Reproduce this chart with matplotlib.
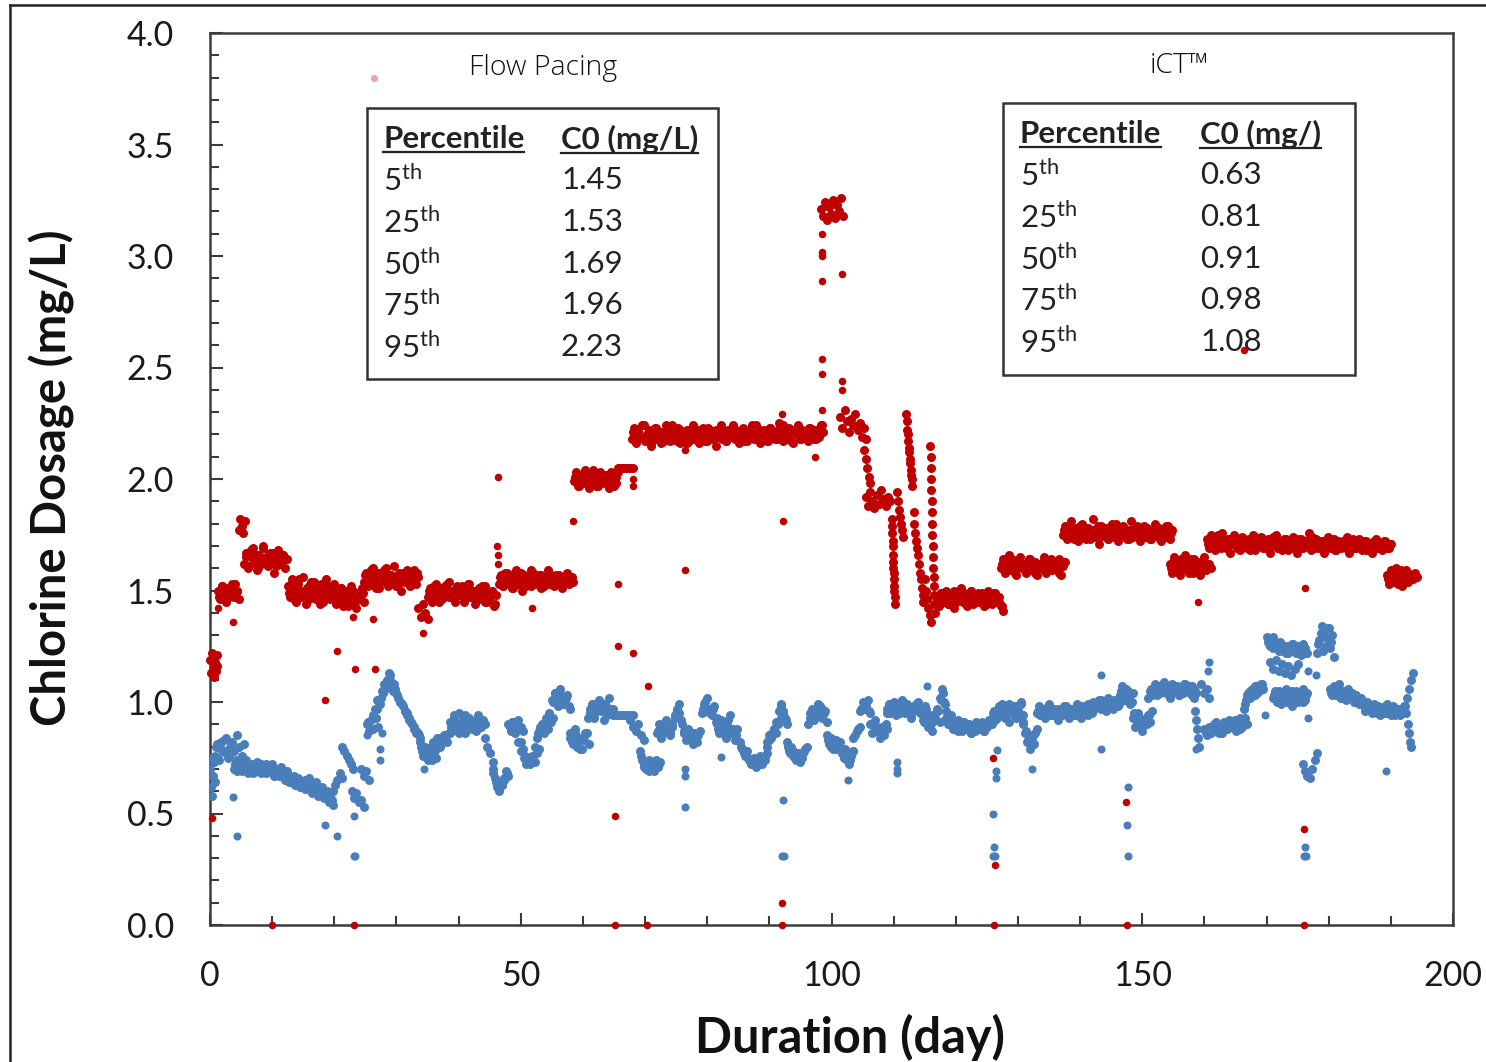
import numpy as np
import matplotlib
matplotlib.use('Agg')
import matplotlib.pyplot as plt
from matplotlib.lines import Line2D
from matplotlib.patches import Rectangle

plt.rcParams['font.family'] = ['Lato', 'DejaVu Sans']
plt.rcParams['mathtext.fontset'] = 'custom'
plt.rcParams['mathtext.rm'] = 'Lato'
plt.rcParams['mathtext.bf'] = 'Lato:bold'

# ---- Flow pacing dosage (red), runs of readings: (first day, last day, values)
red_runs = [
    (0.0, 1.2, [1.19, 1.13, 1.22, 1.15, 1.11, 1.18, 1.14, 1.21, 1.16]),
    (1.3, 4.6, [1.50, 1.46, 1.52, 1.48, 1.45, 1.51, 1.49, 1.53, 1.47, 1.50, 1.46]),
    (4.6, 5.6, [1.77, 1.82, 1.79, 1.76, 1.81]),
    (5.5, 12.4, [1.62, 1.67, 1.60, 1.65, 1.69, 1.63, 1.59, 1.66, 1.62, 1.70, 1.64,
                 1.61, 1.67, 1.63, 1.58, 1.65, 1.68, 1.62, 1.66, 1.60, 1.64]),
    (12.5, 24.8, [1.52, 1.47, 1.55, 1.49, 1.45, 1.53, 1.50, 1.56, 1.48, 1.51, 1.46,
                  1.54, 1.49, 1.52, 1.47, 1.44, 1.51, 1.48, 1.55, 1.50, 1.46, 1.49,
                  1.53, 1.45, 1.48, 1.51, 1.43, 1.47, 1.50, 1.45, 1.52, 1.46, 1.42,
                  1.49, 1.47, 1.51, 1.45]),
    (24.8, 33.5, [1.54, 1.58, 1.52, 1.56, 1.60, 1.53, 1.57, 1.51, 1.55, 1.59, 1.54,
                  1.52, 1.57, 1.55, 1.61, 1.53, 1.56, 1.50, 1.58, 1.54, 1.57, 1.52,
                  1.55, 1.59, 1.53, 1.56]),
    (33.5, 35.0, [1.42, 1.38, 1.44, 1.40, 1.37]),
    (35.0, 46.0, [1.47, 1.51, 1.45, 1.49, 1.53, 1.48, 1.50, 1.46, 1.52, 1.49, 1.54,
                  1.47, 1.50, 1.45, 1.51, 1.48, 1.52, 1.46, 1.49, 1.53, 1.47, 1.50,
                  1.44, 1.48, 1.51, 1.46, 1.49, 1.52, 1.45, 1.47, 1.50, 1.43, 1.48]),
    (46.5, 58.4, [1.53, 1.57, 1.52, 1.55, 1.58, 1.54, 1.51, 1.56, 1.59, 1.53, 1.55,
                  1.50, 1.57, 1.54, 1.56, 1.52, 1.58, 1.55, 1.53, 1.57, 1.51, 1.54,
                  1.56, 1.59, 1.53, 1.55, 1.52, 1.57, 1.54, 1.56, 1.51, 1.55, 1.58,
                  1.53, 1.56, 1.54]),
    (58.6, 65.6, [1.99, 2.03, 1.97, 2.01, 1.98, 2.04, 2.00, 1.96, 2.02, 1.99, 2.01,
                  1.97, 2.03, 1.98, 2.00, 2.02, 1.96, 1.99, 2.01, 1.98, 2.03]),
    (65.6, 68.0, [2.05, 2.05, 2.05, 2.05, 2.05, 2.05, 2.05, 2.05]),
    (67.9, 98.6, [2.18, 2.23, 2.16, 2.21, 2.19, 2.24, 2.17, 2.20, 2.22, 2.15, 2.19,
                  2.23, 2.18, 2.21, 2.16, 2.20, 2.24, 2.19, 2.17, 2.22, 2.20, 2.18,
                  2.23, 2.16, 2.21, 2.19, 2.22, 2.17, 2.20, 2.24, 2.18, 2.21, 2.16,
                  2.19, 2.23, 2.20, 2.17, 2.22, 2.19, 2.21, 2.15, 2.20, 2.23, 2.18,
                  2.21, 2.17, 2.22, 2.19, 2.24, 2.18, 2.20, 2.16, 2.21, 2.23, 2.19,
                  2.17, 2.22, 2.20, 2.18, 2.24, 2.21, 2.16, 2.19, 2.22, 2.20, 2.17,
                  2.23, 2.19, 2.21, 2.18, 2.25, 2.20, 2.17, 2.22, 2.19, 2.23, 2.21,
                  2.16, 2.20, 2.24, 2.18, 2.22, 2.19, 2.21, 2.17, 2.23, 2.20, 2.18,
                  2.22, 2.19, 2.24, 2.21]),
    (98.3, 101.8, [3.21, 3.18, 3.24, 3.16, 3.22, 3.19, 3.25, 3.17, 3.23, 3.20, 3.26, 3.18]),
    (101.4, 105.6, [2.28, 2.23, 2.31, 2.26, 2.21, 2.27, 2.24, 2.29, 2.22, 2.25, 2.19,
                    2.23, 2.18]),
    (105.3, 106.2, [2.13, 2.09, 2.05, 2.01, 1.98]),
    (105.5, 109.4, [1.92, 1.88, 1.94, 1.90, 1.87, 1.93, 1.89, 1.95, 1.91, 1.88, 1.92, 1.90]),
    (109.7, 110.2, [1.82, 1.79, 1.76, 1.72, 1.70, 1.66, 1.63, 1.60, 1.58, 1.55, 1.52,
                    1.50, 1.47, 1.44]),
    (110.6, 111.5, [1.94, 1.90, 1.86, 1.83, 1.80, 1.77, 1.74]),
    (112.0, 113.0, [2.29, 2.26, 2.22, 2.20, 2.17, 2.14, 2.12, 2.09, 2.07, 2.04, 2.02,
                    2.00, 1.97]),
    (113.2, 114.8, [1.85, 1.80, 1.76, 1.72, 1.69, 1.66, 1.62, 1.58, 1.55, 1.51, 1.48, 1.45]),
    (115.0, 116.0, [1.55, 1.50, 1.46, 1.42, 1.39, 1.36]),
    (115.9, 116.6, [2.15, 2.10, 2.05, 2.00, 1.95, 1.90, 1.85, 1.80, 1.75, 1.70, 1.65,
                    1.60, 1.56, 1.52, 1.48, 1.44, 1.40]),
    (117.0, 127.6, [1.47, 1.43, 1.49, 1.45, 1.50, 1.44, 1.48, 1.46, 1.42, 1.49, 1.47,
                    1.51, 1.45, 1.48, 1.43, 1.46, 1.50, 1.44, 1.47, 1.49, 1.45, 1.48,
                    1.43, 1.46, 1.50, 1.47, 1.44, 1.49, 1.46, 1.45, 1.43, 1.41]),
    (127.2, 137.6, [1.60, 1.64, 1.58, 1.62, 1.66, 1.59, 1.63, 1.57, 1.61, 1.65, 1.60,
                    1.62, 1.58, 1.64, 1.61, 1.59, 1.63, 1.57, 1.62, 1.60, 1.65, 1.58,
                    1.61, 1.63, 1.59, 1.62, 1.60, 1.64, 1.57, 1.61, 1.63]),
    (137.2, 154.8, [1.75, 1.79, 1.73, 1.77, 1.81, 1.74, 1.78, 1.72, 1.76, 1.80, 1.75,
                    1.73, 1.78, 1.76, 1.82, 1.74, 1.77, 1.71, 1.79, 1.75, 1.77, 1.73,
                    1.76, 1.80, 1.74, 1.78, 1.72, 1.75, 1.79, 1.76, 1.73, 1.77, 1.81,
                    1.74, 1.76, 1.78, 1.72, 1.75, 1.79, 1.74, 1.77, 1.73, 1.76, 1.80,
                    1.75, 1.78, 1.72, 1.76, 1.74, 1.79, 1.73, 1.77]),
    (154.4, 161.0, [1.62, 1.58, 1.65, 1.60, 1.63, 1.57, 1.61, 1.66, 1.59, 1.62, 1.64,
                    1.58, 1.61, 1.63, 1.57, 1.60, 1.65, 1.59, 1.62, 1.60]),
    (160.4, 190.0, [1.73, 1.69, 1.75, 1.71, 1.68, 1.74, 1.70, 1.76, 1.72, 1.69, 1.73,
                    1.67, 1.71, 1.75, 1.70, 1.72, 1.68, 1.74, 1.71, 1.69, 1.73, 1.70,
                    1.75, 1.68, 1.72, 1.70, 1.74, 1.69, 1.71, 1.73, 1.67, 1.70, 1.72,
                    1.75, 1.69, 1.71, 1.68, 1.73, 1.70, 1.72, 1.69, 1.74, 1.71, 1.67,
                    1.70, 1.73, 1.69, 1.72, 1.70, 1.76, 1.68, 1.71, 1.73, 1.69, 1.70,
                    1.72, 1.67, 1.71, 1.74, 1.69, 1.70, 1.73, 1.68, 1.71, 1.69, 1.72,
                    1.70, 1.74, 1.67, 1.70, 1.72, 1.69, 1.71, 1.73, 1.68, 1.70, 1.72,
                    1.69, 1.71, 1.67, 1.70, 1.73, 1.69, 1.71, 1.68, 1.72, 1.70, 1.69,
                    1.71]),
    (189.4, 194.2, [1.57, 1.53, 1.59, 1.55, 1.60, 1.54, 1.58, 1.52, 1.56, 1.59, 1.54,
                    1.57, 1.55, 1.58, 1.56]),
]

# second pass of readings on the long plateaus (the logger sampled densely)
red_runs_b = [
    (1.5, 4.4, [1.47, 1.52, 1.49, 1.46, 1.51, 1.48, 1.53, 1.50]),
    (5.8, 12.2, [1.65, 1.61, 1.68, 1.63, 1.66, 1.60, 1.64, 1.69, 1.62, 1.66, 1.63,
                 1.67, 1.61, 1.65, 1.62, 1.66, 1.64]),
    (12.7, 24.6, [1.49, 1.53, 1.46, 1.51, 1.55, 1.47, 1.50, 1.44, 1.52, 1.48, 1.54,
                  1.46, 1.50, 1.53, 1.45, 1.49, 1.52, 1.47, 1.50, 1.44, 1.48, 1.51,
                  1.46, 1.49, 1.43, 1.47, 1.50, 1.45, 1.48, 1.46, 1.49]),
    (25.0, 33.3, [1.57, 1.53, 1.59, 1.55, 1.51, 1.58, 1.54, 1.56, 1.60, 1.53, 1.57,
                  1.55, 1.52, 1.58, 1.54, 1.56, 1.59, 1.53, 1.57, 1.55, 1.58]),
    (35.2, 45.8, [1.50, 1.46, 1.52, 1.48, 1.45, 1.51, 1.49, 1.53, 1.47, 1.50, 1.46,
                  1.52, 1.48, 1.51, 1.45, 1.49, 1.53, 1.47, 1.50, 1.46, 1.48, 1.52,
                  1.45, 1.49, 1.47, 1.50, 1.44]),
    (46.7, 58.2, [1.56, 1.52, 1.58, 1.54, 1.57, 1.51, 1.55, 1.53, 1.58, 1.56, 1.52,
                  1.55, 1.59, 1.53, 1.56, 1.54, 1.57, 1.52, 1.55, 1.58, 1.53, 1.56,
                  1.54, 1.57, 1.52, 1.55, 1.57, 1.54, 1.56]),
    (58.8, 65.4, [2.01, 1.97, 2.02, 1.99, 2.03, 1.98, 2.00, 2.04, 1.97, 2.01, 1.99,
                  2.02, 1.98, 2.00, 2.03, 1.97, 2.01]),
    (68.1, 98.4, [2.21, 2.17, 2.22, 2.19, 2.24, 2.18, 2.21, 2.16, 2.20, 2.23, 2.18,
                  2.21, 2.17, 2.22, 2.19, 2.24, 2.20, 2.17, 2.22, 2.19, 2.21, 2.16,
                  2.20, 2.23, 2.18, 2.22, 2.19, 2.21, 2.17, 2.23, 2.20, 2.18, 2.22,
                  2.19, 2.24, 2.20, 2.17, 2.21, 2.19, 2.23, 2.18, 2.20, 2.22, 2.17,
                  2.21, 2.19, 2.24, 2.20, 2.18, 2.22, 2.19, 2.21, 2.17, 2.23, 2.20,
                  2.18, 2.22, 2.20, 2.24, 2.19, 2.21, 2.17, 2.22, 2.20, 2.23, 2.18,
                  2.21, 2.19, 2.23, 2.20, 2.22, 2.18, 2.21, 2.24]),
    (117.2, 127.4, [1.45, 1.49, 1.46, 1.48, 1.44, 1.47, 1.50, 1.45, 1.48, 1.46, 1.49,
                    1.44, 1.47, 1.50, 1.46, 1.48, 1.45, 1.49, 1.47, 1.44, 1.48, 1.46,
                    1.49, 1.45, 1.47, 1.43]),
    (127.4, 137.4, [1.62, 1.59, 1.63, 1.60, 1.64, 1.58, 1.61, 1.63, 1.60, 1.62, 1.59,
                    1.64, 1.61, 1.58, 1.62, 1.60, 1.63, 1.59, 1.61, 1.64, 1.60, 1.62,
                    1.58, 1.61, 1.63]),
    (137.4, 154.6, [1.77, 1.74, 1.78, 1.75, 1.73, 1.77, 1.79, 1.74, 1.76, 1.78, 1.73,
                    1.77, 1.75, 1.79, 1.74, 1.76, 1.78, 1.73, 1.77, 1.75, 1.80, 1.74,
                    1.76, 1.78, 1.75, 1.73, 1.77, 1.76, 1.79, 1.74, 1.77, 1.75, 1.78,
                    1.73, 1.76, 1.78, 1.74, 1.77, 1.75, 1.79, 1.74, 1.76]),
    (154.6, 160.8, [1.60, 1.63, 1.59, 1.62, 1.64, 1.60, 1.63, 1.58, 1.61, 1.64, 1.60,
                    1.62, 1.59, 1.63, 1.61, 1.62]),
    (160.6, 189.8, [1.71, 1.74, 1.70, 1.72, 1.75, 1.69, 1.72, 1.70, 1.73, 1.71, 1.74,
                    1.69, 1.72, 1.70, 1.73, 1.71, 1.68, 1.72, 1.74, 1.70, 1.71, 1.73,
                    1.69, 1.72, 1.70, 1.74, 1.71, 1.69, 1.72, 1.70, 1.73, 1.68, 1.71,
                    1.72, 1.70, 1.73, 1.69, 1.71, 1.72, 1.70, 1.74, 1.69, 1.71, 1.70,
                    1.72, 1.69, 1.71, 1.73, 1.70, 1.68, 1.72, 1.70, 1.71, 1.69, 1.72,
                    1.70, 1.73, 1.69, 1.71, 1.70, 1.72, 1.68, 1.71, 1.70, 1.72, 1.69,
                    1.71, 1.70, 1.72, 1.69, 1.71]),
    (189.6, 194.0, [1.55, 1.58, 1.54, 1.57, 1.53, 1.59, 1.56, 1.54, 1.58, 1.55, 1.57,
                    1.56]),
]

# isolated red readings
red_odd_days = [1.3, 3.7, 18.5, 20.4, 23.0, 23.3, 26.5, 26.3, 34.3, 51.8, 46.3, 46.2,
                46.3, 46.3, 58.4, 65.6, 65.6, 68.0, 70.5, 65.1, 68.0, 68.0, 76.4, 76.4,
                92.0, 92.2, 97.3, 98.4, 98.4, 98.4, 98.4, 98.4, 98.4, 98.4, 101.7,
                101.7, 101.7, 92.0, 126.0, 126.3, 147.4, 176.0, 158.9, 176.2, 166.4,
                0.3, 10.0, 23.1, 65.1, 70.3, 92.0, 126.2, 147.5, 176.0]
red_odd_vals = [1.42, 1.36, 1.01, 1.23, 1.38, 1.15, 1.15, 1.37, 1.31, 1.42, 2.01, 1.70,
                1.66, 1.62, 1.81, 1.53, 1.25, 1.22, 1.07, 0.49, 1.97, 2.00, 2.13, 1.59,
                2.29, 1.81, 2.10, 2.31, 2.47, 2.54, 2.89, 3.00, 3.02, 3.10, 2.92, 2.44,
                2.40, 0.10, 0.75, 0.27, 0.55, 0.43, 1.45, 1.51, 2.58,
                0.48, 0.0, 0.0, 0.0, 0.0, 0.0, 0.0, 0.0, 0.0]
faint_day, faint_val = [26.4], [3.80]

# ---- iCT dosage (blue)
blue_runs = [
    (0.0, 0.8, [0.70, 0.62, 0.75, 0.58, 0.67, 0.73, 0.64]),
    (0.8, 3.6, [0.76, 0.81, 0.74, 0.79, 0.83, 0.77, 0.75, 0.80, 0.78]),
    (3.5, 5.5, [0.82, 0.78, 0.85, 0.80, 0.76, 0.81]),
    (3.8, 11.7, [0.70, 0.74, 0.71, 0.73, 0.69, 0.72, 0.74, 0.70, 0.72, 0.68, 0.71,
                 0.73, 0.69, 0.72, 0.70, 0.68, 0.71, 0.69, 0.72, 0.67, 0.70, 0.68,
                 0.71, 0.69]),
    (11.7, 16.0, [0.68, 0.65, 0.69, 0.66, 0.64, 0.67, 0.63, 0.66, 0.64, 0.62, 0.65,
                  0.63, 0.66]),
    (16.0, 19.8, [0.63, 0.59, 0.61, 0.64, 0.58, 0.60, 0.62, 0.57, 0.60, 0.55, 0.59, 0.54]),
    (19.8, 21.2, [0.60, 0.63, 0.65, 0.68, 0.66]),
    (21.3, 23.0, [0.80, 0.78, 0.76, 0.74, 0.72, 0.70]),
    (22.8, 24.7, [0.60, 0.57, 0.59, 0.55, 0.56, 0.53]),
    (24.3, 25.6, [0.70, 0.67, 0.69, 0.65]),
    (25.2, 27.0, [0.90, 0.87, 0.92, 0.88, 0.93, 0.89]),
    (26.8, 28.9, [0.97, 1.00, 1.02, 1.04, 1.06, 1.09, 1.12]),
    (28.9, 33.8, [1.10, 1.07, 1.08, 1.04, 1.02, 1.00, 0.98, 0.96, 0.95, 0.92, 0.91,
                  0.89, 0.87, 0.86, 0.84]),
    (33.8, 36.4, [0.82, 0.78, 0.80, 0.76, 0.79, 0.74, 0.77, 0.75]),
    (36.2, 38.6, [0.81, 0.84, 0.80, 0.83, 0.85, 0.82, 0.86]),
    (38.6, 44.2, [0.91, 0.87, 0.94, 0.89, 0.95, 0.88, 0.92, 0.86, 0.90, 0.93, 0.88,
                  0.91, 0.87, 0.94, 0.89, 0.92, 0.90]),
    (44.2, 45.5, [0.84, 0.80, 0.77, 0.73]),
    (45.5, 48.0, [0.70, 0.66, 0.62, 0.60, 0.63, 0.66, 0.69, 0.67]),
    (48.0, 50.4, [0.90, 0.87, 0.91, 0.88, 0.92, 0.89, 0.87]),
    (50.0, 53.0, [0.82, 0.79, 0.76, 0.74, 0.72, 0.75, 0.73, 0.77, 0.79]),
    (52.6, 55.2, [0.84, 0.87, 0.90, 0.86, 0.92, 0.88, 0.91, 0.93]),
    (55.2, 57.9, [1.00, 1.04, 0.98, 1.06, 1.02, 0.99, 1.03, 0.97]),
    (57.9, 61.0, [0.86, 0.82, 0.88, 0.80, 0.84, 0.79, 0.83, 0.86, 0.81]),
    (61.1, 64.9, [0.95, 0.99, 0.93, 0.97, 1.01, 0.96, 0.92, 0.98, 1.02, 0.95, 0.97]),
    (64.9, 68.0, [0.94, 0.94, 0.94, 0.94, 0.94, 0.94, 0.94, 0.94]),
    (67.6, 69.8, [0.92, 0.89, 0.87, 0.90, 0.85, 0.83]),
    (69.2, 72.4, [0.78, 0.74, 0.71, 0.73, 0.69, 0.72, 0.70, 0.74, 0.71, 0.73]),
    (71.9, 76.2, [0.86, 0.90, 0.84, 0.88, 0.92, 0.87, 0.85, 0.89, 0.93, 0.96, 0.99,
                  0.92, 0.87]),
    (76.2, 78.8, [0.86, 0.83, 0.88, 0.84, 0.81, 0.85, 0.82, 0.87]),
    (79.1, 81.5, [0.95, 0.99, 1.02, 0.97, 0.94, 0.98, 0.93]),
    (81.5, 84.8, [0.90, 0.86, 0.92, 0.88, 0.84, 0.89, 0.94, 0.87, 0.83, 0.88]),
    (85.3, 89.6, [0.82, 0.79, 0.76, 0.78, 0.74, 0.72, 0.75, 0.71, 0.73, 0.76, 0.72,
                  0.74, 0.77]),
    (89.6, 91.8, [0.82, 0.85, 0.84, 0.88, 0.86, 0.90, 0.93]),
    (91.8, 92.8, [0.99, 0.96, 0.93, 0.90]),
    (92.8, 96.0, [0.82, 0.78, 0.80, 0.76, 0.74, 0.77, 0.73, 0.75, 0.78, 0.80]),
    (96.5, 99.2, [0.93, 0.97, 0.92, 0.96, 0.99, 0.94, 0.97, 0.95, 0.91]),
    (99.2, 101.4, [0.85, 0.81, 0.84, 0.79, 0.83, 0.80, 0.82]),
    (101.4, 103.5, [0.80, 0.77, 0.79, 0.74, 0.72, 0.76, 0.78]),
    (103.5, 104.6, [0.84, 0.87, 0.89]),
    (104.6, 106.2, [0.96, 1.00, 0.97, 1.01, 0.95]),
    (106.2, 108.9, [0.90, 0.86, 0.92, 0.87, 0.84, 0.89, 0.85, 0.88]),
    (108.9, 114.3, [0.95, 0.99, 0.96, 1.00, 0.94, 0.98, 0.97, 1.01, 0.95, 0.99, 0.96,
                    0.93, 0.98, 0.97, 1.00, 0.95]),
    (114.3, 117.4, [0.96, 0.92, 0.98, 0.89, 0.94, 0.87, 0.93, 0.97, 0.91]),
    (117.4, 118.5, [1.02, 1.06, 1.00, 0.96]),
    (118.5, 126.0, [0.93, 0.90, 0.94, 0.91, 0.88, 0.92, 0.89, 0.87, 0.91, 0.88, 0.90,
                    0.86, 0.89, 0.87, 0.90, 0.88, 0.91, 0.87, 0.89, 0.92, 0.90, 0.93]),
    (126.0, 130.8, [0.95, 0.92, 0.97, 0.94, 0.99, 0.93, 0.96, 0.91, 0.95, 0.98, 0.93,
                    0.96, 1.00, 0.94]),
    (130.8, 133.0, [0.90, 0.86, 0.82, 0.79, 0.84, 0.81, 0.88]),
    (133.0, 142.6, [0.95, 0.98, 0.94, 0.97, 0.93, 0.96, 0.99, 0.94, 0.97, 0.95, 0.92,
                    0.96, 0.94, 0.98, 0.95, 0.93, 0.97, 0.94, 0.96, 0.99, 0.95, 0.93,
                    0.97, 0.96, 0.94, 0.98, 0.95, 0.97, 0.99]),
    (142.6, 146.4, [0.98, 1.01, 0.97, 1.00, 0.96, 1.02, 0.99, 0.97, 1.01, 0.98, 1.00]),
    (146.4, 148.5, [1.03, 1.07, 1.01, 1.05, 0.99, 1.04]),
    (148.5, 151.5, [0.93, 0.89, 0.95, 0.91, 0.87, 0.92, 0.90, 0.94, 0.96]),
    (151.0, 158.7, [1.02, 1.06, 1.04, 1.08, 1.03, 1.07, 1.05, 1.09, 1.04, 1.06, 1.02,
                    1.08, 1.05, 1.07, 1.03, 1.06, 1.04, 1.08, 1.05, 1.07, 1.03, 1.06,
                    1.04]),
    (158.2, 159.2, [1.06, 1.02, 0.96, 0.92, 0.88, 0.84, 0.80]),
    (159.5, 160.8, [1.08, 1.04, 1.06, 1.02]),
    (160.0, 166.8, [0.88, 0.85, 0.89, 0.86, 0.88, 0.91, 0.87, 0.89, 0.86, 0.90, 0.88,
                    0.92, 0.89, 0.91, 0.87, 0.90, 0.93, 0.89, 0.92, 0.90]),
    (166.3, 169.5, [0.97, 1.01, 1.04, 1.02, 1.06, 1.03, 1.07, 1.05, 1.08, 1.06]),
    (170.0, 176.5, [1.29, 1.26, 1.28, 1.24, 1.27, 1.25, 1.23, 1.26, 1.24, 1.22, 1.25,
                    1.23, 1.26, 1.24, 1.22, 1.25, 1.23, 1.26, 1.24, 1.22]),
    (170.5, 175.0, [1.18, 1.15, 1.19, 1.14, 1.17, 1.13, 1.16, 1.12, 1.15, 1.17]),
    (171.0, 176.5, [1.02, 1.05, 1.00, 1.04, 0.99, 1.03, 1.06, 1.01, 1.04, 0.98, 1.02,
                    1.05, 1.00, 1.03, 1.06, 1.01, 1.04]),
    (175.8, 178.1, [0.72, 0.69, 0.67, 0.66, 0.70, 0.74, 0.77]),
    (178.1, 180.8, [1.22, 1.28, 1.34, 1.30, 1.25, 1.33, 1.27, 1.20]),
    (180.2, 185.5, [1.06, 1.03, 1.07, 1.04, 1.08, 1.02, 1.05, 1.03, 1.06, 1.02, 1.04,
                    1.01, 1.03, 1.00, 1.02, 1.00]),
    (185.5, 192.5, [0.99, 0.96, 1.00, 0.97, 0.95, 0.99, 0.96, 0.98, 0.94, 0.97, 0.95,
                    0.99, 0.96, 0.94, 0.98, 0.95, 0.97, 0.94, 0.96, 0.98, 0.95]),
    (192.6, 193.5, [1.02, 1.06, 1.10, 1.13]),
    (192.8, 193.3, [0.90, 0.86, 0.82, 0.80]),
]

# second pass of iCT readings (the trace is sampled densely)
blue_runs_b = [
    (0.9, 3.4, [0.80, 0.75, 0.82, 0.78, 0.84, 0.76, 0.79]),
    (4.0, 11.5, [0.72, 0.69, 0.73, 0.70, 0.71, 0.68, 0.72, 0.70, 0.69, 0.71, 0.68,
                 0.70, 0.72, 0.69, 0.70, 0.68, 0.70, 0.67, 0.69]),
    (11.9, 19.6, [0.66, 0.68, 0.64, 0.66, 0.63, 0.65, 0.62, 0.64, 0.61, 0.63, 0.60,
                  0.62, 0.59, 0.61, 0.58, 0.60, 0.57, 0.59, 0.56]),
    (25.4, 28.8, [0.91, 0.88, 0.94, 0.97, 1.01, 0.99, 1.05, 1.08, 1.10, 1.13]),
    (29.0, 33.6, [1.08, 1.05, 1.06, 1.03, 1.00, 0.99, 0.96, 0.94, 0.93, 0.90, 0.88,
                  0.86, 0.85]),
    (33.9, 38.4, [0.80, 0.76, 0.78, 0.74, 0.80, 0.82, 0.79, 0.84, 0.81, 0.85, 0.83, 0.86]),
    (38.8, 44.0, [0.89, 0.93, 0.90, 0.86, 0.91, 0.94, 0.89, 0.92, 0.88, 0.91, 0.93,
                  0.89, 0.91]),
    (45.6, 47.8, [0.68, 0.64, 0.61, 0.63, 0.65, 0.68]),
    (48.2, 57.7, [0.89, 0.91, 0.86, 0.82, 0.78, 0.75, 0.72, 0.74, 0.76, 0.80, 0.86,
                  0.89, 0.90, 0.93, 0.95, 1.01, 1.04, 1.00, 1.03, 0.99, 1.02, 0.98]),
    (58.0, 64.7, [0.84, 0.81, 0.86, 0.82, 0.79, 0.84, 0.86, 0.93, 0.97, 0.99, 0.95,
                  0.98, 1.00, 0.96, 0.99, 0.94, 0.97, 0.95]),
    (69.4, 72.2, [0.76, 0.72, 0.70, 0.74, 0.71, 0.69, 0.73, 0.72]),
    (72.1, 78.6, [0.87, 0.89, 0.86, 0.91, 0.88, 0.86, 0.90, 0.94, 0.97, 0.95, 0.90,
                  0.86, 0.84, 0.87, 0.83, 0.86, 0.84, 0.85]),
    (79.3, 84.6, [0.97, 1.00, 0.96, 0.95, 0.97, 0.91, 0.88, 0.91, 0.86, 0.90, 0.92,
                  0.86, 0.88, 0.85]),
    (85.5, 92.6, [0.80, 0.77, 0.78, 0.75, 0.73, 0.74, 0.72, 0.74, 0.75, 0.73, 0.76,
                  0.80, 0.83, 0.86, 0.88, 0.91, 0.96, 0.98, 0.95, 0.92]),
    (93.0, 98.9, [0.80, 0.77, 0.78, 0.75, 0.76, 0.74, 0.77, 0.79, 0.90, 0.95, 0.94,
                  0.97, 0.95, 0.98, 0.93, 0.96]),
    (99.4, 108.7, [0.83, 0.80, 0.82, 0.79, 0.81, 0.77, 0.75, 0.76, 0.74, 0.78, 0.85,
                   0.88, 0.97, 0.99, 0.98, 0.96, 0.90, 0.87, 0.89, 0.86, 0.88, 0.90]),
    (108.9, 114.1, [0.97, 0.95, 0.99, 0.96, 0.98, 0.95, 1.00, 0.96, 0.98, 0.94, 0.97,
                    0.99, 0.96]),
    (114.5, 118.3, [0.95, 0.91, 0.97, 0.93, 0.90, 0.94, 0.92, 0.96, 1.01, 1.04, 0.99]),
    (118.7, 125.8, [0.90, 0.92, 0.88, 0.90, 0.87, 0.89, 0.91, 0.88, 0.90, 0.86, 0.89,
                    0.91, 0.88, 0.90, 0.87, 0.89, 0.92, 0.90]),
    (126.2, 132.8, [0.96, 0.93, 0.98, 0.95, 0.97, 0.94, 0.99, 0.96, 0.95, 0.98, 0.96,
                    0.99, 0.91, 0.87, 0.83, 0.81, 0.85, 0.86]),
    (133.2, 146.2, [0.96, 0.94, 0.97, 0.95, 0.98, 0.94, 0.96, 0.95, 0.97, 0.94, 0.96,
                    0.98, 0.95, 0.97, 0.96, 0.94, 0.97, 0.95, 0.98, 0.96, 0.99, 0.97,
                    1.00, 0.98, 0.99, 1.01, 0.98, 1.00, 0.99, 1.01, 0.98, 1.00, 0.99]),
    (146.6, 151.3, [1.05, 1.02, 1.06, 1.03, 1.00, 0.95, 0.91, 0.93, 0.89, 0.92, 0.94,
                    0.91]),
    (151.2, 158.5, [1.05, 1.03, 1.07, 1.05, 1.04, 1.08, 1.05, 1.06, 1.04, 1.07, 1.05,
                    1.03, 1.06, 1.08, 1.05, 1.04, 1.07, 1.05]),
    (160.2, 166.6, [0.86, 0.88, 0.87, 0.90, 0.88, 0.86, 0.89, 0.91, 0.88, 0.90, 0.89,
                    0.92, 0.90, 0.88, 0.91, 0.93]),
    (166.5, 169.3, [0.99, 1.03, 1.05, 1.03, 1.07, 1.04, 1.06, 1.08]),
    (170.2, 176.3, [1.27, 1.25, 1.29, 1.26, 1.24, 1.27, 1.23, 1.25, 1.22, 1.24, 1.26,
                    1.23, 1.25, 1.21, 1.24, 1.22]),
    (171.2, 176.3, [1.03, 1.01, 1.05, 1.02, 1.04, 1.00, 1.03, 1.05, 1.01, 1.04, 1.02,
                    1.00, 1.03]),
    (178.3, 180.6, [1.26, 1.31, 1.23, 1.29, 1.33, 1.24, 1.30]),
    (180.4, 192.3, [1.04, 1.06, 1.03, 1.05, 1.02, 1.04, 1.01, 1.03, 1.02, 1.00, 1.02,
                    0.99, 1.00, 0.98, 0.97, 0.99, 0.96, 0.98, 0.95, 0.97, 0.96, 0.98,
                    0.95, 0.97, 0.96, 0.94, 0.97, 0.95, 0.96, 0.98]),
]

blue_odd_days = [3.75, 4.3, 18.5, 20.4, 23.2, 23.1, 23.3, 25.2, 27.6, 27.4, 27.4, 34.4,
                 76.4, 76.4, 76.4, 82.3, 92.2, 92.0, 92.3, 102.6, 110.5, 110.5, 110.5,
                 115.4, 132.3, 143.3, 143.3, 126.6, 126.4, 126.4, 126.0, 126.2, 126.0,
                 126.3, 147.7, 147.6, 147.7, 189.3, 176.2, 176.0, 176.3, 160.7, 160.5,
                 158.7, 169.7, 176.7, 176.7, 178.0]
blue_odd_vals = [0.575, 0.40, 0.45, 0.40, 0.49, 0.31, 0.31, 0.85, 0.86, 0.79, 0.74, 0.70,
                 0.70, 0.67, 0.53, 0.755, 0.56, 0.31, 0.31, 0.65, 0.73, 0.70, 0.68,
                 1.07, 0.70, 1.12, 0.79, 0.785, 0.69, 0.66, 0.50, 0.35, 0.31,
                 0.31, 0.62, 0.45, 0.31, 0.69, 0.35, 0.31, 0.31, 1.18, 1.14,
                 0.79, 0.94, 1.14, 0.93, 1.12]

# ---- percentile tables
pct_labels = ['5', '25', '50', '75', '95']
flow_c0 = ['1.45', '1.53', '1.69', '1.96', '2.23']
ict_c0 = ['0.63', '0.81', '0.91', '0.98', '1.08']


def expand(runs):
    days, vals = [], []
    for first, last, readings in runs:
        days.extend(np.linspace(first, last, len(readings)))
        vals.extend(readings)
    return np.array(days), np.array(vals)


red_d, red_v = expand(red_runs + red_runs_b)
blue_d, blue_v = expand(blue_runs + blue_runs_b)

W, H = 1486, 1062
fig = plt.figure(figsize=(W / 100, H / 100), dpi=100)
L, R, T, B = 210, 1453, 33, 925
ax = fig.add_axes([L / W, (H - B) / H, (R - L) / W, (B - T) / H])

RED = '#c00000'
BLUE = '#4a7ebb'
ms = 42
ax.scatter(blue_d, blue_v, s=ms, color=BLUE, lw=0, zorder=3)
ax.scatter(blue_odd_days, blue_odd_vals, s=ms * 0.8, color=BLUE, lw=0, zorder=3)
ax.scatter(red_d, red_v, s=ms, color=RED, lw=0, zorder=4, clip_on=False)
ax.scatter(red_odd_days, red_odd_vals, s=ms * 0.7, color=RED, lw=0, zorder=4, clip_on=False)
ax.scatter(faint_day, faint_val, s=ms * 0.6, color='#f2a0a0', lw=0, zorder=4)

ax.set_xlim(0, 200)
ax.set_ylim(0, 4)
ax.set_xticks(np.arange(0, 201, 50))
ax.set_xticks(np.arange(0, 201, 10), minor=True)
ax.set_yticks(np.arange(0, 4.01, 0.5))
ax.set_yticks(np.arange(0, 4.01, 0.1), minor=True)
ax.set_yticklabels(['%.1f' % v for v in np.arange(0, 4.01, 0.5)])

edge = '#3c3c3c'
for s in ax.spines.values():
    s.set_linewidth(1.8)
    s.set_color(edge)
ax.tick_params(which='both', direction='in', top=False, right=False, color=edge, width=1.5)
ax.tick_params(which='major', length=9, labelsize=24.5, labelcolor='#1a1a1a')
ax.tick_params(axis='y', which='major', pad=26)
ax.tick_params(axis='x', which='major', pad=25)
ax.tick_params(which='minor', length=6.5)

# axis titles
fig.text(52 / W, 1 - 478 / H, 'Chlorine Dosage (mg/L)', rotation=90, ha='center',
         va='center', fontsize=34, fontweight='bold', color='#111111')
fig.text(850 / W, 1 - 1037 / H, 'Duration (day)', ha='center', va='center',
         fontsize=35, fontweight='bold', color='#111111')

# figure border (left and top edges visible)
fig.add_artist(Line2D([10 / W, 10 / W], [0, 1 - 5 / H], color='#222222', lw=1.8))
fig.add_artist(Line2D([10 / W, 1], [1 - 5 / H, 1 - 5 / H], color='#222222', lw=1.8))


def ax_pt(px, py):
    return (px - L) / (R - L), (B - py) / (B - T)


def put(px, py, s, **kw):
    x, y = ax_pt(px, py)
    return ax.text(x, y, s, transform=ax.transAxes, zorder=1, clip_on=False, **kw)


put(543, 68, 'Flow Pacing', ha='center', va='center', fontsize=20.5,
    family=['Open Sans', 'DejaVu Sans'], fontweight='light', color='#111111')
put(1179, 66, 'iCT\u2122', ha='center', va='center', fontsize=20.5,
    family=['Open Sans', 'DejaVu Sans'], fontweight='light', color='#111111')

headers = []
tables = [
    (367, 108, 718, 379, 383, 561, 139, [180, 222, 264, 305, 347], 'C0 (mg/L)', flow_c0),
    (1003, 103, 1355, 375, 1020, 1200, 134, [175, 217, 259, 300, 342], 'C0 (mg/)', ict_c0),
]
fs = 22.5
for x0, y0, x1, y1, cx1, cx2, hy, rows, head2, vals in tables:
    ax0, ay1 = ax_pt(x0, y0)
    ax1, ay0 = ax_pt(x1, y1)
    ax.add_patch(Rectangle((ax0, ay0), ax1 - ax0, ay1 - ay0, transform=ax.transAxes,
                           fill=False, ec='#333333', lw=1.8, zorder=1, clip_on=False))
    headers.append(put(cx1, hy, 'Percentile', ha='left', va='center', fontsize=fs,
                       fontweight='bold', color='#222222'))
    headers.append(put(cx2, hy, head2, ha='left', va='center', fontsize=fs,
                       fontweight='bold', color='#222222'))
    for ry, p, v in zip(rows, pct_labels, vals):
        put(cx1, ry, p + r'$^{\mathrm{th}}$', ha='left', va='center', fontsize=fs,
            color='#222222')
        put(cx2, ry, v, ha='left', va='center', fontsize=fs, color='#222222')

fig.canvas.draw()
inv = ax.transAxes.inverted()
for t in headers:
    bb = t.get_window_extent()
    (ux0, uy), (ux1, _) = inv.transform([(bb.x0, bb.y0 + 1), (bb.x1, bb.y0 + 1)])
    ax.add_line(Line2D([ux0, ux1], [uy, uy], transform=ax.transAxes, color='#222222',
                       lw=1.6, zorder=1, clip_on=False))

fig.savefig('out.png', dpi=100)
